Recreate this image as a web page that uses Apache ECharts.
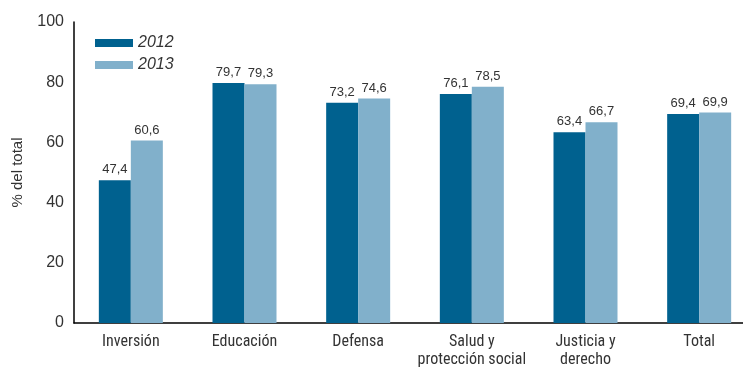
<!DOCTYPE html>
<html><head><meta charset="utf-8">
<script src="https://cdn.jsdelivr.net/npm/echarts@6/dist/echarts.min.js"></script>
<style>html,body{margin:0;padding:0;background:#fff;overflow:hidden;width:743px;height:369px}#c{width:756px;height:369px}</style>
</head><body><div id="c"></div>
<script>
const categories = ['Inversión', 'Educación', 'Defensa', 'Salud y\nprotección social', 'Justicia y\nderecho', 'Total'];
const values2012 = [47.4, 79.7, 73.2, 76.1, 63.4, 69.4];
const values2013 = [60.6, 79.3, 74.6, 78.5, 66.7, 69.9];
const yTicks = [0, 20, 40, 60, 80, 100];
const seriesNames = ['2012', '2013'];

const chart = echarts.init(document.getElementById('c'));
const fmt = p => String(p.value).replace('.', ',');
const lbl = {show: true, position: 'top', distance: 4, color: '#333', fontSize: 13, fontFamily: 'Liberation Sans, sans-serif', formatter: fmt};
chart.setOption({
  animation: false,
  legend: {
    orient: 'vertical', left: 90, top: 30, itemWidth: 38, itemHeight: 8, itemGap: 6,
    icon: 'rect',
    textStyle: {fontStyle: 'italic', fontSize: 16, color: '#333', fontFamily: 'Liberation Sans, sans-serif'},
    data: seriesNames
  },
  grid: {left: 74, top: 22, right: 0, bottom: 46, containLabel: false},
  xAxis: {
    type: 'category', data: categories,
    axisLine: {lineStyle: {color: '#000', width: 1.5}},
    axisTick: {show: false},
    axisLabel: {color: '#333', fontSize: 16, fontFamily: '"Roboto Condensed", "DejaVu Sans Condensed", sans-serif', margin: 10, lineHeight: 18, interval: 0}
  },
  yAxis: {
    type: 'value', min: yTicks[0], max: yTicks[yTicks.length - 1], interval: 20,
    name: '% del total', nameLocation: 'middle', nameGap: 49, nameRotate: 90,
    nameTextStyle: {fontSize: 15, color: '#333', fontFamily: 'Liberation Sans, sans-serif'},
    axisLine: {show: true, lineStyle: {color: '#000', width: 1.5}},
    axisTick: {show: false},
    splitLine: {show: false},
    axisLabel: {color: '#333', fontSize: 16, fontFamily: 'Liberation Sans, sans-serif', margin: 10}
  },
  series: [
    {name: seriesNames[0], type: 'bar', data: values2012, barWidth: 32, barGap: '0%', itemStyle: {color: '#00618f'}, label: lbl},
    {name: seriesNames[1], type: 'bar', data: values2013, barWidth: 32, barGap: '0%', itemStyle: {color: '#81b0cb'}, label: lbl}
  ]
});
</script></body></html>
